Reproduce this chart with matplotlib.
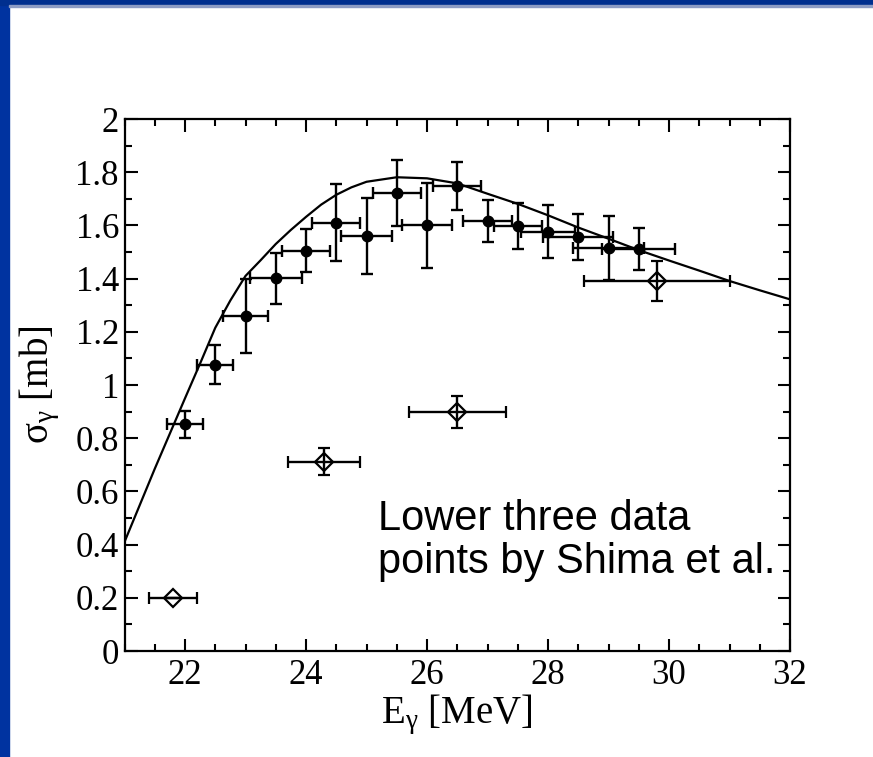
import matplotlib
matplotlib.use('Agg')
import matplotlib.pyplot as plt
from matplotlib.patches import Rectangle
from matplotlib.ticker import MultipleLocator

plt.rcParams['mathtext.fontset'] = 'custom'
plt.rcParams['mathtext.rm'] = 'Liberation Serif'
plt.rcParams['mathtext.it'] = 'Liberation Serif'

# ---- data ----
# present data (filled circles)
pts_x = [22.0, 22.5, 23.0, 23.5, 24.0, 24.5, 25.0, 25.5, 26.0, 26.5, 27.0, 27.5, 28.0, 28.5, 29.0, 29.5]
pts_y = [0.853, 1.077, 1.259, 1.401, 1.504, 1.610, 1.560, 1.721, 1.600, 1.748, 1.617, 1.598, 1.577, 1.555, 1.514, 1.511]
pts_yerr = [0.051, 0.072, 0.14, 0.095, 0.081, 0.144, 0.144, 0.124, 0.16, 0.089, 0.079, 0.085, 0.10, 0.086, 0.12, 0.08]
pts_xerr = [0.3, 0.3, 0.38, 0.43, 0.4, 0.4, 0.42, 0.4, 0.41, 0.4, 0.4, 0.4, 0.45, 0.58, 0.58, 0.6]

# Shima et al. (open diamonds)
shima_x = [21.8, 24.3, 26.5, 29.8]
shima_y = [0.198, 0.712, 0.897, 1.391]
shima_yerr = [0.0, 0.052, 0.06, 0.077]
shima_xerr = [0.4, 0.6, 0.8, 1.2]

# theory curve
curve_x = [21.0, 21.5, 22.0, 22.25, 22.5, 22.75, 23.0, 23.25, 23.5, 23.75, 24.0, 24.25,
           24.5, 24.75, 25.0, 25.5, 26.0, 26.5, 27.0, 27.5, 28.0, 28.5, 29.0, 29.5,
           30.0, 30.5, 31.0, 31.5, 32.0]
curve_y = [0.41, 0.685, 0.95, 1.081, 1.215, 1.318, 1.41, 1.469, 1.53, 1.583, 1.632, 1.678,
           1.715, 1.743, 1.764, 1.781, 1.777, 1.758, 1.719, 1.681, 1.638, 1.592, 1.55, 1.507,
           1.468, 1.43, 1.391, 1.356, 1.322]

note_lines = ['Lower three data', 'points by Shima et al.']

# ---- figure ----
W, H = 873, 757
fig = plt.figure(figsize=(W / 100, H / 100), dpi=100, facecolor='white')

# blue slide frame
fig.patches.append(Rectangle((0, 0), 9 / W, 1, transform=fig.transFigure,
                             color='#0033a0', zorder=0))
fig.patches.append(Rectangle((0, 1 - 5 / H), 1, 5 / H, transform=fig.transFigure,
                             color='#002f8f', zorder=0))
fig.patches.append(Rectangle((9 / W, 1 - 7 / H), 1, 2 / H, transform=fig.transFigure,
                             color='#8d9cc4', zorder=0))

ax = fig.add_axes([124.5 / W, 1 - 651 / H, (790 - 124.5) / W, (651 - 119) / H])

ax.plot(curve_x, curve_y, color='black', lw=1.6, zorder=2)

ax.errorbar(pts_x, pts_y, yerr=pts_yerr, xerr=pts_xerr, fmt='o', color='black',
            ms=7.5, elinewidth=1.7, capsize=4, capthick=1.7, zorder=3)
ax.errorbar(shima_x, shima_y, yerr=shima_yerr, xerr=shima_xerr, fmt='D', color='black',
            mfc='none', mec='black', mew=1.6, ms=9, elinewidth=1.7, capsize=4,
            capthick=1.7, zorder=3)

ax.set_xlim(21, 32)
ax.set_ylim(0, 2)
ax.xaxis.set_minor_locator(MultipleLocator(0.5))
ax.yaxis.set_minor_locator(MultipleLocator(0.1))
ax.tick_params(which='both', direction='in', top=True, right=True, width=1.5)
ax.tick_params(which='major', length=9)
ax.tick_params(which='minor', length=5)
for sp in ax.spines.values():
    sp.set_linewidth(1.6)

xt = [22, 24, 26, 28, 30, 32]
ax.set_xticks(xt)
ax.set_xticklabels([str(v) for v in xt], family='Liberation Serif', fontsize=25)
yt = [0, 0.2, 0.4, 0.6, 0.8, 1, 1.2, 1.4, 1.6, 1.8, 2]
ax.set_yticks(yt)
ax.set_yticklabels(['0', '0.2', '0.4', '0.6', '0.8', '1', '1.2', '1.4', '1.6', '1.8', '2'],
                   family='Liberation Serif', fontsize=25)
ax.tick_params(axis='x', pad=6)
ax.tick_params(axis='y', pad=4)

ax.set_xlabel(r'E$_{\gamma}$ [MeV]', family='Liberation Serif', fontsize=28, labelpad=0)
ax.set_ylabel(r'$\mathrm{\sigma_{\gamma}}$ [mb]', family='Liberation Serif', fontsize=28,
              labelpad=10)

ax.text(25.19, 0.455, note_lines[0], family='Liberation Sans', fontsize=30,
        va='baseline', ha='left', zorder=4)
ax.text(25.19, 0.293, note_lines[1], family='Liberation Sans', fontsize=30,
        va='baseline', ha='left', zorder=4)

fig.savefig('out.png', dpi=100, facecolor='white')
